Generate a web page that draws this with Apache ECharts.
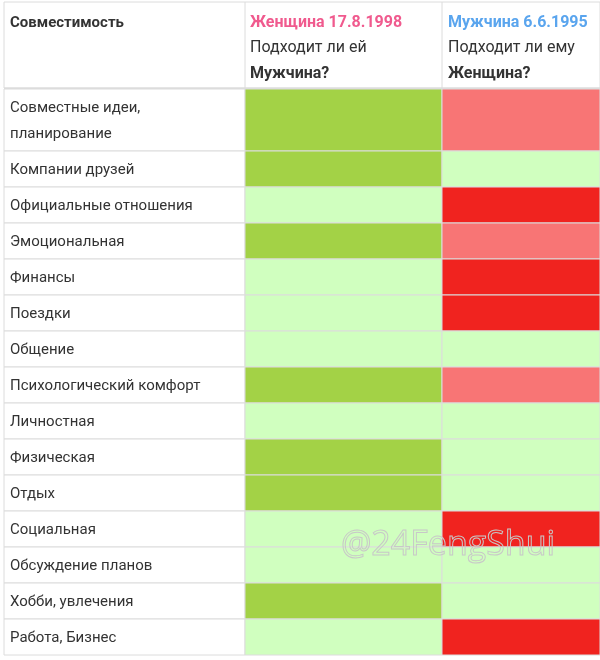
<!DOCTYPE html>
<html><head><meta charset="utf-8">
<script src="https://cdn.jsdelivr.net/npm/echarts@6/dist/echarts.min.js"></script>
<style>html,body{margin:0;padding:0;background:#fff}#c{width:600px;height:660px}</style>
</head><body><div id="c"></div>
<script>
const categories = ['Совместные идеи,\nпланирование','Компании друзей','Официальные отношения','Эмоциональная','Финансы','Поездки','Общение','Психологический комфорт','Личностная','Физическая','Отдых','Социальная','Обсуждение планов','Хобби, увлечения','Работа, Бизнес'];
// 3 = strong yes, 2 = yes, 1 = weak no, 0 = no
const womanValues = [3,3,2,3,2,2,2,3,2,3,3,2,2,3,2];
const manValues   = [1,2,0,1,0,0,2,1,2,2,2,0,2,2,0];
const columnHeaders = [['Женщина 17.8.1998','Подходит ли ей','Мужчина?'],['Мужчина 6.6.1995','Подходит ли ему','Женщина?']];

const levelColors = ['#f0231f','#f87575','#d0ffbf','#a3d246'];
const colX = [4,245,442,600];
const tableTop = 89;
function rowH(i){ const n = categories[i].split('\n').length; return 26*n+10; }
const rowTop = []; { let y = tableTop; categories.forEach((c,i)=>{rowTop.push(y); y+=rowH(i);}); }

const data = categories.map((c,i)=>[i, womanValues[i], manValues[i]]);
const chart = echarts.init(document.getElementById('c'));
const FONT = 'Roboto, "Liberation Sans", sans-serif';
chart.setOption({
  animation:false,
  grid:{left:0,right:0,top:0,bottom:0},
  xAxis:{type:'value',min:0,max:600,show:false},
  yAxis:{type:'value',min:0,max:660,inverse:true,show:false},
  series:[{
    type:'custom', data:data,
    renderItem:function(params, api){
      const i = api.value(0);
      const y0 = rowTop[i], h = rowH(i);
      const vals = [api.value(1), api.value(2)];
      const ch = [];
      ch.push({type:'rect',shape:{x:colX[0],y:y0,width:colX[1]-colX[0],height:h},style:{fill:'#fff',stroke:'#dcdcdc',lineWidth:1}});
      for(let k=0;k<2;k++){
        ch.push({type:'rect',shape:{x:colX[k+1],y:y0,width:colX[k+2]-colX[k+1],height:h},style:{fill:levelColors[vals[k]],stroke:'#dcdcdc',lineWidth:1}});
      }
      ch.push({type:'text',style:{x:10,y:y0+h/2+1.5,text:categories[i],fill:'#333',font:'15px '+FONT,verticalAlign:'middle',lineHeight:26}});
      return {type:'group',children:ch};
    }
  }],
  graphic:[
    {type:'rect',shape:{x:colX[0],y:2,width:596,height:86},style:{fill:'#fff',stroke:'#dcdcdc',lineWidth:1}},
    {type:'line',shape:{x1:colX[1],y1:2,x2:colX[1],y2:88},style:{stroke:'#dcdcdc'}},
    {type:'line',shape:{x1:colX[2],y1:2,x2:colX[2],y2:88},style:{stroke:'#dcdcdc'}},
    {type:'line',shape:{x1:colX[0],y1:88.5,x2:600,y2:88.5},style:{stroke:'#dcdcdc',lineWidth:2}},
    {type:'text',style:{x:10,y:23,text:'Совместимость',fill:'#333',font:'bold 15px '+FONT,verticalAlign:'middle'}},
    {type:'text',style:{x:250,y:23,text:columnHeaders[0][0],fill:'#f05a8e',font:'bold 16px '+FONT,verticalAlign:'middle'}},
    {type:'text',style:{x:250,y:48,text:columnHeaders[0][1],fill:'#333',font:'16px '+FONT,verticalAlign:'middle'}},
    {type:'text',style:{x:250,y:74,text:columnHeaders[0][2],fill:'#333',font:'bold 16px '+FONT,verticalAlign:'middle'}},
    {type:'text',style:{x:448,y:23,text:columnHeaders[1][0],fill:'#5aa5ee',font:'bold 16px '+FONT,verticalAlign:'middle'}},
    {type:'text',style:{x:448,y:48,text:columnHeaders[1][1],fill:'#333',font:'16px '+FONT,verticalAlign:'middle'}},
    {type:'text',style:{x:448,y:74,text:columnHeaders[1][2],fill:'#333',font:'bold 16px '+FONT,verticalAlign:'middle'}},
    {type:'text',z:100,style:{x:448,y:545,text:'@24FengShui',fill:'rgba(255,255,255,0)',stroke:'#c8c8c8',lineWidth:1,font:'34px "Open Sans", sans-serif',align:'center',verticalAlign:'middle'}}
  ]
});
</script></body></html>
